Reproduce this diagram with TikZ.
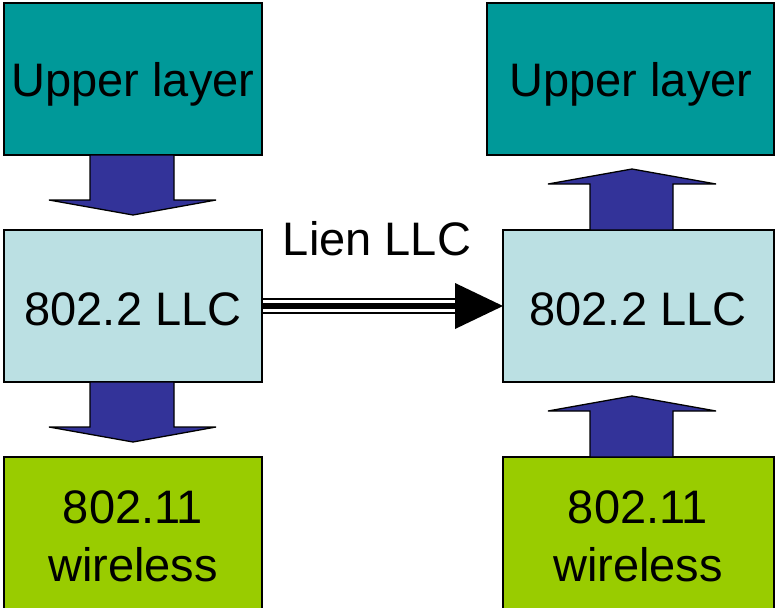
\documentclass[tikz,border=0pt]{standalone}
\usepackage{fontspec}
\setmainfont{Liberation Sans}
\usetikzlibrary{calc}
\definecolor{tealbox}{RGB}{0,153,153}
\definecolor{llcbox}{RGB}{187,224,227}
\definecolor{greenbox}{RGB}{153,204,0}
\definecolor{arrowblue}{RGB}{51,51,153}
\begin{document}
\begin{tikzpicture}[x=1pt,y=-1pt,
  box/.style={draw=black, line width=1.3pt, inner sep=0pt, outer sep=0pt, anchor=north west},
  upperbox/.style={box, fill=tealbox},
  llcstyle/.style={box, fill=llcbox},
  greenstyle/.style={box, fill=greenbox},
  lbl/.style={anchor=base, inner sep=0pt, font=\fontsize{47}{50}\selectfont},
  blk/.style={fill=arrowblue, draw=black, line width=1.3pt, line join=miter},
  dnarrow/.pic={\path[blk] (-43,0) -- (-43,45) -- (-84,45) -- (0,60) -- (83,45) -- (41,45) -- (41,0) -- cycle;},
  uparrow/.pic={\path[blk] (-42,0) -- (-42,-46) -- (-84,-46) -- (0,-61) -- (84,-46) -- (41,-46) -- (41,0) -- cycle;}
]
\useasboundingbox (0,0) rectangle (775,607);
\clip (0,0) rectangle (775,607);

% boxes
\node[upperbox, minimum width=258pt, minimum height=152pt] (ulL) at (4,3) {};
\node[llcstyle, minimum width=258pt, minimum height=152pt] (llcL) at (4,230) {};
\node[greenstyle, minimum width=258pt, minimum height=170pt] (grL) at (4,457) {};
\node[upperbox, minimum width=287pt, minimum height=152pt] (ulR) at (487,3) {};
\node[llcstyle, minimum width=271pt, minimum height=152pt] (llcR) at (503,230) {};
\node[greenstyle, minimum width=271pt, minimum height=170pt] (grR) at (503,457) {};

% labels
\node[lbl] (tUL) at (133,97) {Upper layer};
\node[lbl] (tUR) at (631,97) {Upper layer};
\node[lbl] (tLL) at (133,325) {802.2 LLC};
\node[lbl] (tLR) at (638,325) {802.2 LLC};
\node[lbl] (tGL1) at (133,523) {802.11};
\node[lbl] (tGL2) at (133,581) {wireless};
\node[lbl] (tGR1) at (638,523) {802.11};
\node[lbl] (tGR2) at (638,581) {wireless};
\node[lbl] (tLien) at (377,255) {Lien LLC};

% block arrows
\pic at (ulL.south) {dnarrow};
\pic at (llcL.south) {dnarrow};
\pic at ($(ulR.south |- llcR.north)+(1.5,0)$) {uparrow};
\pic at ($(ulR.south |- grR.north)+(1.5,0)$) {uparrow};

% LLC link
\coordinate (hb) at (455,306);
\draw[line width=6pt] (llcL.east) -- (hb);
\draw[line width=1.5pt] ($(llcL.east)+(0,-7)$) -- ($(hb)+(0,-7)$);
\draw[line width=1.5pt] ($(llcL.east)+(0,7)$) -- ($(hb)+(0,7)$);
\fill ($(hb)+(0,-23)$) -- (llcR.west) -- ($(hb)+(0,23)$) -- cycle;
\end{tikzpicture}
\end{document}
